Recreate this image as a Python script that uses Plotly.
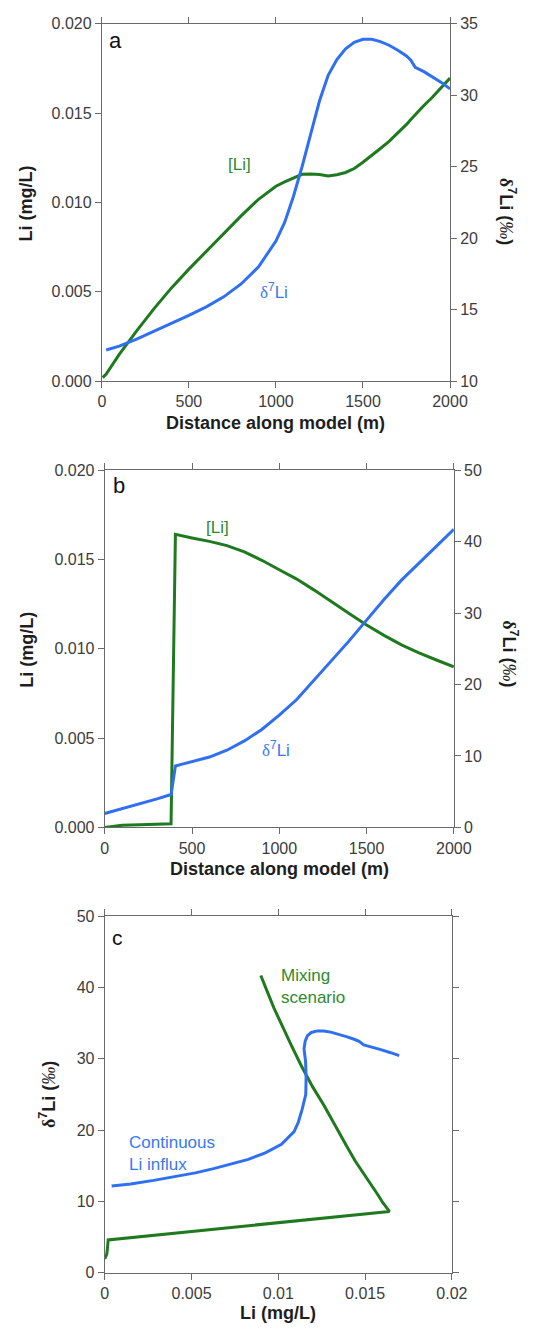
import plotly.graph_objects as go

W, H = 539, 1336

# ---------------- data ----------------
# Panel a: continuous Li influx (δ7Li not drawn at the very first point)
dist_a = [5, 25, 100, 200, 300, 400, 500, 600, 700, 800, 900, 1000, 1050, 1100, 1150, 1200,
          1250, 1300, 1350, 1400, 1450, 1500, 1550, 1600, 1650, 1700, 1750, 1775, 1800,
          1850, 1900, 1950, 2000]
li_a = [0.0002, 0.0004, 0.0015, 0.00282, 0.00406, 0.00522, 0.00627, 0.00727, 0.00827, 0.00925,
        0.01018, 0.01091, 0.01115, 0.01137, 0.01158, 0.01160, 0.01157, 0.01148, 0.01155,
        0.01168, 0.0119, 0.01225, 0.01262, 0.01302, 0.01342, 0.01387, 0.01437, 0.01465,
        0.01492, 0.01543, 0.0159, 0.01643, 0.01696]
d7li_a = [None, 12.18, 12.45, 12.95, 13.5, 14.0, 14.6, 15.2, 15.9, 16.8, 18.0, 19.8, 21.1, 22.9,
          25.0, 27.3, 29.6, 31.4, 32.5, 33.25, 33.7, 33.92, 33.92, 33.75, 33.5, 33.15,
          32.75, 32.45, 31.95, 31.65, 31.3, 30.9, 30.45]

# Panel b: mixing scenario
dist_b = [0, 100, 200, 300, 380, 405, 450, 500, 600, 700, 800, 900, 1000, 1100, 1200,
          1300, 1400, 1500, 1600, 1700, 1800, 1900, 2000]
li_b = [0.0, 0.00012, 0.00015, 0.00016, 0.0002, 0.0164, 0.0163, 0.0162, 0.01601, 0.01577,
        0.01542, 0.01495, 0.01442, 0.0139, 0.01328, 0.01265, 0.01197, 0.01133, 0.01075,
        0.01022, 0.00977, 0.00937, 0.00899]
d7li_b = [1.95, 2.6, 3.25, 4.0, 4.6, 8.6, 8.9, 9.2, 9.85, 10.8, 12.1, 13.7, 15.7, 17.9,
          20.6, 23.4, 26.1, 29.0, 31.9, 34.6, 37.0, 39.4, 41.7]

# ticks
dist_ticks = [0, 500, 1000, 1500, 2000]
li_ticks = [0, 0.005, 0.010, 0.015, 0.020]
li_ticktext = ["0.000", "0.005", "0.010", "0.015", "0.020"]
d7_ticks_a = [10, 15, 20, 25, 30, 35]
d7_ticks_b = [0, 10, 20, 30, 40, 50]
c_x_ticks = [0, 0.005, 0.01, 0.015, 0.02]
c_x_ticktext = ["0", "0.005", "0.01", "0.015", "0.02"]
c_y_ticks = [0, 10, 20, 30, 40, 50]

# ---------------- style ----------------
GREEN = "#1f7a1f"
BLUE = "#2f6ff2"
GREEN_T = "#2e8a2e"
BLUE_T = "#3a78f2"
AX_COL = "#6a6a6a"
FONT = "Liberation Sans, Arial, sans-serif"
TICK_FONT = dict(family=FONT, size=16, color="#3c3c3c")
LABEL_FONT = 17
TITLE_COL = "#1e1e1e"
DELTA = "<span style=\"font-family:'Liberation Serif'\">δ</span><sup>7</sup>Li"
PERMIL = "(<span style=\"font-family:'Liberation Serif';font-style:italic;font-weight:normal\">‰</span>)"


def px(x):
    return x / W


def py(y):
    return 1 - y / H


def dom_x(l, r):
    return [l / W, r / W]


def dom_y(t, b):
    return [1 - b / H, 1 - t / H]


def axis(**kw):
    d = dict(showgrid=False, zeroline=False, linecolor=AX_COL, linewidth=1,
             tickcolor=AX_COL, tickwidth=1, ticklen=6, tickfont=TICK_FONT,
             fixedrange=True)
    d.update(kw)
    return d


# panel geometry (pixels)
A_X, A_Y = (102, 465), (16, 378)
B_X, B_Y = (105, 469), (468, 830)
C_X, C_Y = (105, 467), (920, 1281)

fig = go.Figure()

# panel a traces
fig.add_trace(go.Scatter(x=dist_a, y=li_a, mode="lines", line=dict(color=GREEN, width=3),
                         xaxis="x", yaxis="y", showlegend=False))
fig.add_trace(go.Scatter(x=dist_a, y=d7li_a, mode="lines", line=dict(color=BLUE, width=3),
                         xaxis="x", yaxis="y3", showlegend=False))
# panel b traces
fig.add_trace(go.Scatter(x=dist_b, y=li_b, mode="lines", line=dict(color=GREEN, width=3),
                         xaxis="x3", yaxis="y5", showlegend=False))
fig.add_trace(go.Scatter(x=dist_b, y=d7li_b, mode="lines", line=dict(color=BLUE, width=3),
                         xaxis="x3", yaxis="y7", showlegend=False))
# panel c traces
fig.add_trace(go.Scatter(x=li_b, y=d7li_b, mode="lines", line=dict(color=GREEN, width=3),
                         xaxis="x5", yaxis="y9", showlegend=False))
fig.add_trace(go.Scatter(x=li_a, y=d7li_a, mode="lines", line=dict(color=BLUE, width=3),
                         xaxis="x5", yaxis="y9", showlegend=False))

layout = dict(width=W, height=H, margin=dict(l=0, r=0, t=0, b=0),
              paper_bgcolor="white", plot_bgcolor="white", showlegend=False)

# ---- panel a axes
layout["xaxis"] = axis(domain=dom_x(*A_X), anchor="y", range=[0, 2000], tickvals=dist_ticks,
                       ticks="outside", showline=True, mirror="allticks")
layout["xaxis2"] = axis(domain=dom_x(*A_X), anchor="y", overlaying="x", range=[0, 2000],
                        tickvals=dist_ticks, ticks="inside", mirror="allticks",
                        showticklabels=False, showline=False)
layout["yaxis"] = axis(domain=dom_y(*A_Y), anchor="x", range=[0, 0.02], tickvals=li_ticks,
                       ticktext=li_ticktext, ticks="outside", showline=True)
layout["yaxis2"] = axis(domain=dom_y(*A_Y), anchor="x", overlaying="y", range=[0, 0.02],
                        tickvals=li_ticks, ticks="inside", showticklabels=False, showline=False)
layout["yaxis3"] = axis(domain=dom_y(*A_Y), anchor="x", overlaying="y", side="right",
                        range=[10, 35], tickvals=d7_ticks_a, ticks="outside", showline=True)
layout["yaxis4"] = axis(domain=dom_y(*A_Y), anchor="x", overlaying="y", side="right",
                        range=[10, 35], tickvals=d7_ticks_a, ticks="inside",
                        showticklabels=False, showline=False)

# ---- panel b axes
layout["xaxis3"] = axis(domain=dom_x(*B_X), anchor="y5", range=[0, 2000], tickvals=dist_ticks,
                        ticks="outside", showline=True, mirror="allticks")
layout["xaxis4"] = axis(domain=dom_x(*B_X), anchor="y5", overlaying="x3", range=[0, 2000],
                        tickvals=dist_ticks, ticks="inside", mirror="allticks",
                        showticklabels=False, showline=False)
layout["yaxis5"] = axis(domain=dom_y(*B_Y), anchor="x3", range=[0, 0.02], tickvals=li_ticks,
                        ticktext=li_ticktext, ticks="outside", showline=True)
layout["yaxis6"] = axis(domain=dom_y(*B_Y), anchor="x3", overlaying="y5", range=[0, 0.02],
                        tickvals=li_ticks, ticks="inside", showticklabels=False, showline=False)
layout["yaxis7"] = axis(domain=dom_y(*B_Y), anchor="x3", overlaying="y5", side="right",
                        range=[0, 50], tickvals=d7_ticks_b, ticks="outside", showline=True)
layout["yaxis8"] = axis(domain=dom_y(*B_Y), anchor="x3", overlaying="y5", side="right",
                        range=[0, 50], tickvals=d7_ticks_b, ticks="inside",
                        showticklabels=False, showline=False)

# ---- panel c axes
layout["xaxis5"] = axis(domain=dom_x(*C_X), anchor="y9", range=[0, 0.02], tickvals=c_x_ticks,
                        ticktext=c_x_ticktext, ticks="outside", showline=True,
                        mirror="allticks")
layout["xaxis6"] = axis(domain=dom_x(*C_X), anchor="y9", overlaying="x5", range=[0, 0.02],
                        tickvals=c_x_ticks, ticks="inside", mirror="allticks",
                        showticklabels=False, showline=False)
layout["yaxis9"] = axis(domain=dom_y(*C_Y), anchor="x5", range=[0, 50], tickvals=c_y_ticks,
                        ticks="outside", showline=True, mirror="allticks")
layout["yaxis10"] = axis(domain=dom_y(*C_Y), anchor="x5", overlaying="y9", range=[0, 50],
                         tickvals=c_y_ticks, ticks="inside", mirror="allticks",
                         showticklabels=False, showline=False)

ann = []


def add_text(x, y, text, size, color, bold=False, angle=0, xanchor="center", align="center"):
    t = f"<b>{text}</b>" if bold else text
    ann.append(dict(x=px(x), y=py(y), xref="paper", yref="paper", text=t, showarrow=False,
                    textangle=angle, xanchor=xanchor, yanchor="middle", align=align,
                    font=dict(family=FONT, size=size, color=color)))


# axis titles
add_text(23, 198, "Li (mg/L)", 18, TITLE_COL, bold=True, angle=-90)
add_text((A_X[0] + A_X[1]) / 2, 420, "Distance along model (m)", 18, TITLE_COL, bold=True)
add_text(525, 206, DELTA + " " + PERMIL, 18, TITLE_COL, bold=True, angle=90)

add_text(24, 650, "Li (mg/L)", 18, TITLE_COL, bold=True, angle=-90)
add_text((B_X[0] + B_X[1]) / 2, 872, "Distance along model (m)", 18, TITLE_COL, bold=True)
add_text(527, 654, DELTA + " " + PERMIL, 18, TITLE_COL, bold=True, angle=90)

add_text(46, 1101, DELTA + " " + PERMIL, 18, TITLE_COL, bold=True, angle=-90)
add_text((C_X[0] + C_X[1]) / 2, 1322, "Li (mg/L)", 18, TITLE_COL, bold=True)

# panel letters
add_text(116, 33, "a", 22, "#111111")
add_text(120, 484, "b", 22, "#111111")
add_text(118, 941, "c", 21, "#111111")

# curve labels
add_text(245, 159, "[Li]", LABEL_FONT, GREEN_T)
add_text(282, 287, DELTA, LABEL_FONT, BLUE_T)
add_text(223, 526, "[Li]", LABEL_FONT, GREEN_T)
add_text(284, 751, DELTA, LABEL_FONT, BLUE_T)
add_text(287, 991, "Mixing<br>scenario", LABEL_FONT, GREEN_T, xanchor="left", align="left")
add_text(128, 1160, "Continuous<br>Li influx", LABEL_FONT, BLUE_T, xanchor="left", align="left")

layout["annotations"] = ann
fig.update_layout(**layout)

fig.write_html("out.html", include_plotlyjs=True, config={"displayModeBar": False},
               post_script="document.body.style.margin='0';document.body.style.overflow='hidden';")
